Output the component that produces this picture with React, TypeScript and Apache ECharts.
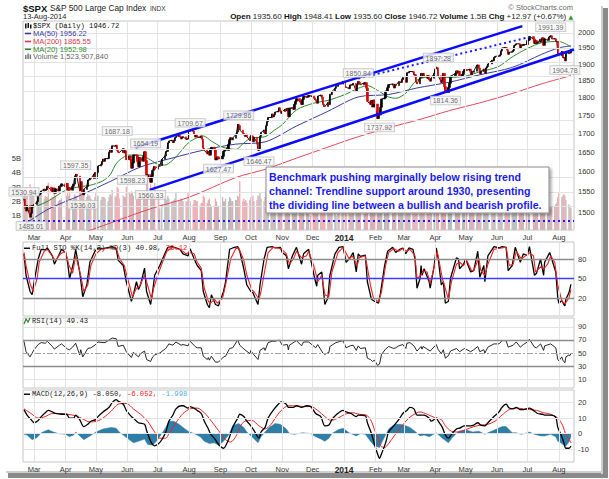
import React, { useEffect, useRef } from 'react';
import * as echarts from 'echarts';

const SANS = '"Liberation Sans", Arial, sans-serif';
const MONO = '"Liberation Mono", "DejaVu Sans Mono", monospace';

const HOLIDAYS = ['13-03-29', '13-05-27', '13-07-04', '13-09-02', '13-11-28', '13-12-25', '14-01-01', '14-01-20', '14-02-17', '14-04-18', '14-05-26', '14-07-04'];

// [year, month, first day] for each block of daily values below
const MONTH_STARTS: [number, number, number][] = [
  [2013, 2, 19], [2013, 3, 1], [2013, 4, 1], [2013, 5, 1], [2013, 6, 1], [2013, 7, 1], [2013, 8, 1], [2013, 9, 1], [2013, 10, 1], [2013, 11, 1], [2013, 12, 1],
  [2014, 1, 1], [2014, 2, 1], [2014, 3, 1], [2014, 4, 1], [2014, 5, 1], [2014, 6, 1], [2014, 7, 1], [2014, 8, 1],
];

// daily closes
const close1302 = [1530.94, 1511.95, 1502.42, 1515.6, 1487.85, 1496.94, 1515.99, 1514.68];
const close1303 = [1518.2, 1525.2, 1539.79, 1541.46, 1544.26, 1551.18, 1556.22, 1552.48, 1554.52, 1563.23, 1560.7, 1552.1, 1548.34, 1558.71, 1545.8, 1556.89, 1551.69, 1563.77, 1562.85, 1569.19];
const close1304 = [1562.17, 1570.25, 1553.69, 1559.98, 1553.28, 1563.07, 1568.61, 1587.73, 1593.37, 1588.85, 1552.36, 1574.57, 1552.01, 1541.61, 1555.25, 1562.5, 1578.78, 1578.79, 1585.16, 1582.24, 1593.61, 1597.57];
const close1305 = [1582.7, 1597.59, 1614.42, 1617.5, 1625.96, 1632.69, 1626.67, 1633.7, 1633.77, 1650.34, 1658.78, 1650.47, 1667.47, 1666.29, 1669.16, 1655.35, 1650.51, 1649.6, 1660.06, 1648.36, 1654.41, 1630.74];
const close1306 = [1640.42, 1631.38, 1608.9, 1622.56, 1643.38, 1642.81, 1626.13, 1612.52, 1636.36, 1626.73, 1639.04, 1651.81, 1628.93, 1588.19, 1592.43, 1573.09, 1588.03, 1603.26, 1613.2, 1606.28];
const close1307 = [1614.96, 1614.08, 1615.41, 1631.89, 1640.46, 1652.32, 1652.62, 1675.02, 1680.19, 1682.5, 1676.26, 1680.91, 1689.37, 1692.09, 1695.53, 1692.39, 1685.94, 1690.25, 1691.65, 1685.33, 1685.96, 1685.73];
const close1308 = [1706.87, 1709.67, 1707.14, 1697.37, 1690.91, 1697.48, 1691.42, 1689.47, 1694.16, 1685.39, 1661.32, 1655.83, 1646.06, 1652.35, 1642.8, 1656.96, 1663.5, 1656.78, 1630.48, 1634.96, 1638.17, 1632.97];
const close1309 = [1639.77, 1653.08, 1655.08, 1655.17, 1671.71, 1683.99, 1689.13, 1683.42, 1687.99, 1697.6, 1704.76, 1725.52, 1722.34, 1709.91, 1701.84, 1697.42, 1692.77, 1698.67, 1691.75, 1681.55];
const close1310 = [1695.0, 1693.87, 1678.66, 1690.5, 1676.12, 1655.45, 1656.4, 1692.56, 1703.2, 1710.14, 1698.06, 1721.54, 1733.15, 1744.5, 1744.66, 1754.67, 1746.38, 1752.07, 1759.77, 1762.11, 1771.95, 1763.31, 1756.54];
const close1311 = [1761.64, 1767.93, 1762.97, 1770.49, 1747.15, 1770.61, 1771.89, 1767.69, 1782.0, 1790.62, 1798.18, 1791.53, 1787.87, 1781.37, 1795.85, 1804.76, 1802.48, 1802.75, 1807.23, 1805.81];
const close1312 = [1800.9, 1795.15, 1792.81, 1785.03, 1805.09, 1808.37, 1802.62, 1782.22, 1775.5, 1775.32, 1786.54, 1781.0, 1810.65, 1809.6, 1818.32, 1827.99, 1833.32, 1842.02, 1841.4, 1841.07, 1848.36];
const close1401 = [1831.98, 1831.37, 1826.77, 1837.88, 1837.49, 1838.13, 1842.37, 1819.2, 1838.88, 1848.38, 1845.89, 1838.7, 1843.8, 1844.86, 1828.46, 1790.29, 1781.56, 1792.5, 1774.2, 1794.19, 1782.59];
const close1402 = [1741.89, 1755.2, 1751.64, 1773.43, 1797.02, 1799.84, 1819.75, 1819.26, 1829.83, 1838.63, 1840.76, 1828.75, 1839.78, 1836.25, 1847.61, 1845.12, 1845.16, 1854.29, 1859.45];
const close1403 = [1845.73, 1873.91, 1873.81, 1877.03, 1878.04, 1877.17, 1867.63, 1868.2, 1846.34, 1841.13, 1858.83, 1872.25, 1860.77, 1872.01, 1866.52, 1857.44, 1865.62, 1852.56, 1849.04, 1857.62, 1872.34];
const close1404 = [1885.52, 1890.9, 1888.77, 1865.09, 1845.04, 1851.96, 1872.18, 1833.08, 1815.69, 1830.61, 1842.98, 1862.31, 1864.85, 1871.89, 1879.55, 1875.39, 1878.61, 1863.4, 1869.43, 1878.33, 1883.95];
const close1405 = [1883.68, 1881.14, 1884.66, 1867.72, 1878.21, 1875.63, 1878.48, 1896.65, 1897.45, 1888.53, 1870.85, 1877.86, 1885.08, 1872.83, 1888.03, 1892.49, 1900.53, 1911.91, 1909.78, 1920.03, 1923.57];
const close1406 = [1924.97, 1924.24, 1927.88, 1940.46, 1949.44, 1951.27, 1950.79, 1943.89, 1930.11, 1936.16, 1937.78, 1941.99, 1956.98, 1959.48, 1962.87, 1962.61, 1949.98, 1959.53, 1957.22, 1960.96, 1960.23];
const close1407 = [1973.32, 1974.62, 1985.44, 1977.65, 1963.71, 1972.83, 1964.68, 1967.57, 1977.1, 1973.28, 1981.57, 1958.12, 1978.22, 1973.63, 1983.53, 1987.01, 1987.98, 1978.34, 1978.91, 1969.95, 1970.07, 1930.67];
const close1408 = [1925.15, 1938.99, 1920.21, 1920.24, 1909.57, 1931.59, 1936.92, 1933.75, 1946.72];
const CLOSES = [close1302, close1303, close1304, close1305, close1306, close1307, close1308, close1309, close1310, close1311, close1312, close1401, close1402, close1403, close1404, close1405, close1406, close1407, close1408];

// daily volume, billions
const vol1302 = [2.6, 2.9, 3.0, 2.4, 3.2, 2.9, 2.6, 2.8];
const vol1303 = [2.5, 2.4, 2.7, 2.6, 2.4, 2.5, 2.2, 2.4, 2.3, 2.3, 3.3, 2.2, 2.3, 2.3, 2.8, 2.4, 2.0, 2.1, 2.1, 2.2];
const vol1304 = [2.1, 2.4, 2.6, 2.4, 2.6, 2.1, 2.2, 2.5, 2.4, 2.3, 3.1, 2.6, 2.9, 3.0, 2.7, 2.3, 2.5, 2.4, 2.4, 2.2, 2.0, 2.3];
const vol1305 = [2.6, 2.4, 2.4, 2.1, 2.3, 2.3, 2.3, 2.2, 2.0, 2.3, 2.5, 2.4, 2.8, 2.3, 2.4, 3.0, 2.9, 2.2, 2.4, 2.3, 2.3, 3.0];
const vol1306 = [2.6, 2.5, 2.7, 2.6, 2.4, 2.1, 2.3, 2.5, 2.4, 2.5, 2.3, 2.4, 2.7, 3.4, 3.6, 3.2, 2.7, 2.4, 2.4, 3.3];
const vol1307 = [2.4, 2.3, 1.5, 1.8, 2.3, 2.2, 2.1, 2.4, 2.2, 2.0, 2.0, 2.1, 2.2, 2.6, 2.0, 2.1, 2.2, 2.1, 2.0, 2.0, 2.0, 2.6];
const vol1308 = [2.3, 2.0, 1.8, 2.1, 2.1, 2.0, 2.0, 1.7, 1.9, 1.9, 2.4, 2.3, 1.9, 2.1, 2.2, 1.8, 1.6, 1.7, 2.2, 2.0, 1.6, 1.7];
const vol1309 = [2.3, 2.0, 2.0, 2.2, 2.0, 2.3, 2.2, 2.0, 2.0, 2.1, 2.1, 2.4, 2.3, 3.4, 2.0, 2.2, 2.0, 2.1, 1.9, 2.1];
const vol1310 = [2.3, 2.2, 2.4, 2.0, 2.1, 2.4, 2.4, 2.6, 2.2, 2.0, 2.3, 2.7, 2.4, 2.7, 2.3, 2.5, 2.4, 2.3, 2.2, 2.3, 2.4, 2.3, 2.6];
const vol1311 = [2.2, 2.1, 2.2, 2.3, 2.6, 2.3, 1.8, 2.0, 2.1, 2.2, 2.2, 2.2, 2.1, 2.3, 2.1, 2.2, 2.0, 2.0, 1.6, 1.0];
const vol1312 = [2.1, 2.2, 2.3, 2.2, 2.0, 2.1, 2.2, 2.4, 2.3, 2.3, 2.2, 2.3, 2.8, 2.4, 3.3, 1.8, 1.0, 1.4, 1.3, 1.5, 1.6];
const vol1401 = [1.8, 1.8, 2.1, 2.2, 2.2, 2.1, 2.1, 2.4, 2.2, 2.3, 2.2, 2.4, 2.3, 2.3, 2.5, 3.2, 2.8, 2.5, 2.7, 2.4, 2.6];
const vol1402 = [3.3, 2.8, 2.8, 2.5, 2.3, 2.0, 2.2, 2.1, 2.0, 2.0, 2.3, 2.3, 2.0, 1.9, 2.0, 2.2, 2.1, 2.0, 2.4];
const vol1403 = [2.3, 2.3, 2.1, 2.0, 2.1, 1.9, 2.0, 2.0, 2.2, 2.3, 2.1, 2.1, 2.2, 2.1, 3.1, 2.3, 2.4, 2.3, 2.2, 2.2, 2.3];
const vol1404 = [2.2, 2.1, 2.2, 2.6, 2.5, 2.4, 2.3, 2.5, 2.6, 2.2, 2.3, 2.1, 2.2, 1.7, 1.8, 1.8, 1.9, 1.8, 2.0, 1.9, 2.0];
const vol1405 = [2.1, 1.9, 1.8, 2.0, 2.1, 2.0, 1.9, 1.9, 1.9, 1.8, 2.1, 2.0, 1.8, 1.8, 1.8, 1.6, 1.5, 1.7, 1.8, 1.7, 2.0];
const vol1406 = [1.8, 1.7, 1.7, 1.8, 1.7, 1.6, 1.6, 1.6, 1.8, 1.6, 1.6, 1.6, 1.8, 1.8, 2.9, 1.7, 1.7, 1.6, 1.6, 1.8, 1.9];
const vol1407 = [1.8, 1.6, 1.1, 1.5, 1.7, 1.6, 1.7, 1.5, 1.6, 1.7, 1.7, 1.9, 1.7, 1.6, 1.6, 1.6, 1.5, 1.6, 1.7, 1.8, 1.9, 2.3];
const vol1408 = [2.6, 2.3, 2.4, 2.5, 2.4, 2.1, 1.8, 1.7, 1.52];
const VOLUMES = [vol1302, vol1303, vol1304, vol1305, vol1306, vol1307, vol1308, vol1309, vol1310, vol1311, vol1312, vol1401, vol1402, vol1403, vol1404, vol1405, vol1406, vol1407, vol1408];

type KF = [string, number][];
const ma20: KF = [['13-02-19', 1508], ['13-03-01', 1512], ['13-03-15', 1527], ['13-04-01', 1553], ['13-04-15', 1562], ['13-04-26', 1566], ['13-05-08', 1577], ['13-05-15', 1592], ['13-05-22', 1624], ['13-06-03', 1643], ['13-06-14', 1643], ['13-06-24', 1630], ['13-07-01', 1619], ['13-07-08', 1617], ['13-07-15', 1628], ['13-07-22', 1647], ['13-08-01', 1677], ['13-08-15', 1694], ['13-08-23', 1680], ['13-09-03', 1664], ['13-09-16', 1658], ['13-09-24', 1675], ['13-10-01', 1688], ['13-10-15', 1692], ['13-10-24', 1709], ['13-11-01', 1725], ['13-11-15', 1766], ['13-12-02', 1785], ['13-12-16', 1793], ['14-01-02', 1810], ['14-01-15', 1828], ['14-01-24', 1836], ['14-02-03', 1822], ['14-02-14', 1803], ['14-02-21', 1799], ['14-03-03', 1814], ['14-03-14', 1852], ['14-04-01', 1864], ['14-04-15', 1860], ['14-05-01', 1864], ['14-05-15', 1877], ['14-06-02', 1892], ['14-06-16', 1922], ['14-07-01', 1948], ['14-07-15', 1966], ['14-08-01', 1970], ['14-08-13', 1952.98]];
const ma50: KF = [['13-02-19', 1470], ['13-03-15', 1507], ['13-04-15', 1540], ['13-05-15', 1575], ['13-06-14', 1612], ['13-07-15', 1635], ['13-08-15', 1656], ['13-09-16', 1672], ['13-10-15', 1678], ['13-11-15', 1721], ['13-12-16', 1762], ['14-01-15', 1803], ['14-02-14', 1810], ['14-03-14', 1829], ['14-04-15', 1846], ['14-05-15', 1868], ['14-06-16', 1890], ['14-07-15', 1930], ['14-08-01', 1950], ['14-08-13', 1956.22]];
const ma200: KF = [['13-02-19', 1410], ['13-03-15', 1425], ['13-04-24', 1456], ['13-06-24', 1508], ['13-08-01', 1536], ['13-09-16', 1585], ['13-10-15', 1606], ['13-11-15', 1635], ['13-12-16', 1664], ['14-01-15', 1692], ['14-02-24', 1724], ['14-03-14', 1737], ['14-04-15', 1764], ['14-05-15', 1786], ['14-06-16', 1813], ['14-07-15', 1841], ['14-08-13', 1865.55]];

const stoK: KF = [['13-02-19', 88], ['13-02-21', 55], ['13-02-25', 30], ['13-02-27', 25], ['13-03-01', 45], ['13-03-05', 80], ['13-03-08', 95], ['13-03-12', 94], ['13-03-14', 97], ['13-03-19', 85], ['13-03-21', 72], ['13-03-26', 88], ['13-03-28', 95], ['13-04-01', 90], ['13-04-03', 75], ['13-04-05', 50], ['13-04-09', 75], ['13-04-11', 95], ['13-04-15', 60], ['13-04-18', 22], ['13-04-22', 40], ['13-04-25', 75], ['13-04-30', 92], ['13-05-03', 97], ['13-05-08', 96], ['13-05-14', 98], ['13-05-17', 99], ['13-05-21', 96], ['13-05-23', 78], ['13-05-28', 70], ['13-05-31', 45], ['13-06-05', 15], ['13-06-07', 25], ['13-06-10', 45], ['13-06-12', 33], ['13-06-14', 40], ['13-06-18', 66], ['13-06-20', 30], ['13-06-24', 10], ['13-06-26', 30], ['13-06-28', 55], ['13-07-03', 70], ['13-07-08', 88], ['13-07-11', 98], ['13-07-15', 99], ['13-07-19', 97], ['13-07-23', 95], ['13-07-26', 88], ['13-07-31', 85], ['13-08-02', 96], ['13-08-06', 80], ['13-08-09', 70], ['13-08-13', 62], ['13-08-15', 30], ['13-08-19', 10], ['13-08-21', 5], ['13-08-23', 25], ['13-08-27', 10], ['13-08-30', 8], ['13-09-04', 30], ['13-09-06', 45], ['13-09-10', 95], ['13-09-13', 97], ['13-09-18', 99], ['13-09-20', 92], ['13-09-24', 65], ['13-09-27', 40], ['13-10-01', 30], ['13-10-03', 28], ['13-10-08', 10], ['13-10-10', 40], ['13-10-14', 80], ['13-10-17', 98], ['13-10-22', 99], ['13-10-25', 97], ['13-10-30', 98], ['13-11-01', 90], ['13-11-05', 85], ['13-11-07', 65], ['13-11-11', 85], ['13-11-15', 98], ['13-11-20', 72], ['13-11-22', 88], ['13-11-27', 95], ['13-12-03', 50], ['13-12-05', 38], ['13-12-06', 55], ['13-12-10', 60], ['13-12-13', 10], ['13-12-16', 20], ['13-12-18', 55], ['13-12-23', 88], ['13-12-27', 98], ['13-12-31', 99], ['14-01-03', 75], ['14-01-07', 82], ['14-01-10', 90], ['14-01-13', 60], ['14-01-15', 88], ['14-01-17', 84], ['14-01-22', 86], ['14-01-24', 45], ['14-01-28', 18], ['14-01-31', 15], ['14-02-04', 12], ['14-02-06', 28], ['14-02-10', 70], ['14-02-13', 92], ['14-02-18', 98], ['14-02-21', 90], ['14-02-25', 95], ['14-02-28', 97], ['14-03-03', 88], ['14-03-06', 97], ['14-03-10', 95], ['14-03-12', 80], ['14-03-14', 35], ['14-03-17', 50], ['14-03-18', 70], ['14-03-19', 55], ['14-03-21', 65], ['14-03-26', 45], ['14-03-27', 35], ['14-03-31', 70], ['14-04-02', 97], ['14-04-04', 80], ['14-04-07', 40], ['14-04-09', 45], ['14-04-11', 12], ['14-04-14', 15], ['14-04-16', 50], ['14-04-22', 82], ['14-04-24', 80], ['14-04-25', 65], ['14-04-29', 72], ['14-05-01', 80], ['14-05-06', 60], ['14-05-09', 62], ['14-05-13', 92], ['14-05-15', 52], ['14-05-19', 70], ['14-05-20', 45], ['14-05-23', 85], ['14-05-29', 99], ['14-06-03', 97], ['14-06-06', 99], ['14-06-10', 98], ['14-06-12', 62], ['14-06-16', 70], ['14-06-19', 98], ['14-06-24', 75], ['14-06-27', 88], ['14-07-01', 85], ['14-07-03', 99], ['14-07-08', 55], ['14-07-10', 58], ['14-07-14', 80], ['14-07-17', 55], ['14-07-18', 75], ['14-07-23', 90], ['14-07-25', 80], ['14-07-29', 60], ['14-07-31', 20], ['14-08-01', 12], ['14-08-04', 16], ['14-08-06', 10], ['14-08-07', 8], ['14-08-08', 18], ['14-08-11', 28], ['14-08-13', 40.98]];
const stoD: KF = [['13-02-19', 90], ['13-02-21', 70], ['13-02-25', 42], ['13-02-28', 30], ['13-03-04', 50], ['13-03-06', 75], ['13-03-11', 92], ['13-03-14', 95], ['13-03-20', 82], ['13-03-22', 78], ['13-03-27', 88], ['13-04-01', 92], ['13-04-04', 72], ['13-04-08', 58], ['13-04-11', 85], ['13-04-16', 55], ['13-04-19', 30], ['13-04-23', 40], ['13-04-26', 70], ['13-05-01', 88], ['13-05-06', 95], ['13-05-15', 97], ['13-05-21', 97], ['13-05-24', 82], ['13-05-29', 70], ['13-06-03', 40], ['13-06-06', 22], ['13-06-10', 35], ['13-06-13', 38], ['13-06-18', 55], ['13-06-20', 45], ['13-06-25', 18], ['13-06-27', 35], ['13-07-01', 55], ['13-07-05', 72], ['13-07-10', 92], ['13-07-16', 98], ['13-07-24', 94], ['13-07-29', 88], ['13-08-01', 90], ['13-08-06', 88], ['13-08-09', 75], ['13-08-13', 66], ['13-08-16', 35], ['13-08-20', 15], ['13-08-22', 12], ['13-08-26', 18], ['13-08-29', 12], ['13-09-03', 20], ['13-09-06', 40], ['13-09-11', 80], ['13-09-16', 96], ['13-09-19', 97], ['13-09-24', 78], ['13-09-27', 55], ['13-10-02', 32], ['13-10-04', 30], ['13-10-09', 18], ['13-10-11', 30], ['13-10-15', 65], ['13-10-18', 90], ['13-10-23', 98], ['13-10-31', 96], ['13-11-05', 88], ['13-11-08', 72], ['13-11-12', 80], ['13-11-15', 92], ['13-11-20', 82], ['13-11-25', 85], ['13-11-27', 92], ['13-12-03', 65], ['13-12-06', 45], ['13-12-10', 55], ['13-12-13', 25], ['13-12-17', 22], ['13-12-20', 60], ['13-12-26', 90], ['13-12-31', 98], ['14-01-06', 80], ['14-01-09', 85], ['14-01-14', 70], ['14-01-16', 82], ['14-01-22', 85], ['14-01-27', 40], ['14-01-30', 20], ['14-02-04', 14], ['14-02-07', 30], ['14-02-11', 70], ['14-02-14', 90], ['14-02-19', 96], ['14-02-24', 92], ['14-02-28', 96], ['14-03-04', 92], ['14-03-07', 95], ['14-03-12', 85], ['14-03-14', 50], ['14-03-18', 55], ['14-03-20', 62], ['14-03-24', 60], ['14-03-27', 42], ['14-04-01', 75], ['14-04-03', 92], ['14-04-08', 50], ['14-04-10', 40], ['14-04-14', 18], ['14-04-17', 45], ['14-04-22', 72], ['14-04-25', 75], ['14-04-29', 70], ['14-05-02', 78], ['14-05-07', 62], ['14-05-09', 62], ['14-05-14', 82], ['14-05-16', 62], ['14-05-20', 55], ['14-05-23', 72], ['14-05-29', 95], ['14-06-10', 98], ['14-06-13', 70], ['14-06-17', 72], ['14-06-20', 92], ['14-06-25', 80], ['14-06-30', 86], ['14-07-02', 90], ['14-07-07', 85], ['14-07-09', 60], ['14-07-14', 68], ['14-07-17', 65], ['14-07-21', 72], ['14-07-24', 85], ['14-07-28', 75], ['14-07-31', 40], ['14-08-04', 15], ['14-08-07', 11], ['14-08-11', 20], ['14-08-13', 33.12]];

const rsi: KF = [['13-02-19', 68], ['13-02-21', 52], ['13-02-25', 44], ['13-02-27', 50], ['13-03-01', 55], ['13-03-05', 63], ['13-03-08', 66], ['13-03-12', 65], ['13-03-14', 68], ['13-03-19', 60], ['13-03-21', 56], ['13-03-26', 62], ['13-03-28', 64], ['13-04-03', 56], ['13-04-05', 55], ['13-04-08', 59], ['13-04-11', 65], ['13-04-15', 47], ['13-04-16', 55], ['13-04-18', 44], ['13-04-23', 57], ['13-04-26', 58], ['13-04-30', 62], ['13-05-03', 67], ['13-05-08', 66], ['13-05-10', 66], ['13-05-15', 71], ['13-05-17', 73], ['13-05-21', 72], ['13-05-23', 60], ['13-05-28', 62], ['13-05-31', 52], ['13-06-05', 43], ['13-06-07', 51], ['13-06-12', 44], ['13-06-14', 49], ['13-06-18', 53], ['13-06-20', 40], ['13-06-24', 37], ['13-06-26', 44], ['13-06-28', 47], ['13-07-03', 50], ['13-07-09', 57], ['13-07-12', 64], ['13-07-16', 62], ['13-07-19', 67], ['13-07-24', 62], ['13-07-26', 63], ['13-07-31', 61], ['13-08-02', 68], ['13-08-07', 60], ['13-08-09', 58], ['13-08-13', 58], ['13-08-15', 45], ['13-08-19', 40], ['13-08-20', 43], ['13-08-21', 39], ['13-08-23', 45], ['13-08-27', 36], ['13-08-30', 36], ['13-09-04', 44], ['13-09-06', 45], ['13-09-10', 57], ['13-09-13', 58], ['13-09-18', 70], ['13-09-20', 62], ['13-09-25', 55], ['13-09-30', 49], ['13-10-01', 54], ['13-10-03', 49], ['13-10-08', 40], ['13-10-10', 54], ['13-10-14', 58], ['13-10-15', 54], ['13-10-18', 66], ['13-10-22', 68], ['13-10-25', 68], ['13-10-29', 70], ['13-11-01', 62], ['13-11-06', 63], ['13-11-07', 55], ['13-11-08', 62], ['13-11-15', 69], ['13-11-20', 61], ['13-11-22', 67], ['13-11-27', 67], ['13-12-04', 58], ['13-12-06', 63], ['13-12-11', 50], ['13-12-13', 48], ['13-12-17', 51], ['13-12-18', 60], ['13-12-24', 66], ['13-12-31', 69], ['14-01-03', 58], ['14-01-07', 61], ['14-01-10', 62], ['14-01-13', 54], ['14-01-15', 61], ['14-01-17', 57], ['14-01-22', 58], ['14-01-24', 42], ['14-01-27', 40], ['14-01-29', 37], ['14-01-31', 39], ['14-02-03', 31], ['14-02-05', 33], ['14-02-07', 48], ['14-02-11', 56], ['14-02-14', 60], ['14-02-19', 57], ['14-02-21', 58], ['14-02-24', 61], ['14-02-28', 63], ['14-03-03', 57], ['14-03-04', 65], ['14-03-07', 66], ['14-03-11', 61], ['14-03-14', 53], ['14-03-18', 60], ['14-03-19', 56], ['14-03-20', 60], ['14-03-24', 56], ['14-03-27', 53], ['14-04-02', 63], ['14-04-04', 55], ['14-04-07', 49], ['14-04-09', 55], ['14-04-11', 42], ['14-04-14', 46], ['14-04-16', 53], ['14-04-22', 57], ['14-04-25', 52], ['14-04-30', 57], ['14-05-06', 52], ['14-05-09', 55], ['14-05-13', 60], ['14-05-15', 52], ['14-05-19', 55], ['14-05-20', 50], ['14-05-23', 59], ['14-05-29', 64], ['14-06-03', 64], ['14-06-06', 69], ['14-06-10', 69], ['14-06-12', 59], ['14-06-17', 62], ['14-06-20', 67], ['14-06-24', 59], ['14-06-27', 63], ['14-07-01', 67], ['14-07-03', 71], ['14-07-08', 59], ['14-07-10', 58], ['14-07-14', 64], ['14-07-17', 54], ['14-07-18', 61], ['14-07-24', 64], ['14-07-29', 58], ['14-07-31', 40], ['14-08-01', 38], ['14-08-04', 44], ['14-08-05', 39], ['14-08-07', 35], ['14-08-08', 44], ['14-08-11', 47], ['14-08-12', 46], ['14-08-13', 49.43]];

const macd: KF = [['13-02-19', 15.5], ['13-02-22', 12], ['13-02-26', 9], ['13-03-01', 7], ['13-03-05', 8.5], ['13-03-08', 11], ['13-03-12', 13.5], ['13-03-15', 15], ['13-03-19', 14], ['13-03-22', 13], ['13-03-28', 12.5], ['13-04-02', 12.5], ['13-04-05', 10], ['13-04-09', 10], ['13-04-11', 12], ['13-04-15', 9], ['13-04-19', 4.5], ['13-04-23', 6], ['13-04-26', 8], ['13-05-01', 9], ['13-05-03', 11], ['13-05-08', 14], ['13-05-14', 17], ['13-05-17', 20], ['13-05-21', 22], ['13-05-23', 21], ['13-05-28', 19], ['13-05-31', 15], ['13-06-05', 11], ['13-06-07', 10], ['13-06-12', 7], ['13-06-18', 6], ['13-06-20', 2], ['13-06-24', -5], ['13-06-26', -7], ['13-06-28', -8], ['13-07-02', -6.5], ['13-07-05', -4], ['13-07-09', 1], ['13-07-12', 8], ['13-07-16', 12], ['13-07-19', 16], ['13-07-24', 18], ['13-07-26', 18], ['13-07-31', 16.5], ['13-08-02', 17.5], ['13-08-07', 16], ['13-08-09', 15], ['13-08-13', 13], ['13-08-16', 8], ['13-08-20', 3], ['13-08-22', 0], ['13-08-27', -4], ['13-08-30', -7], ['13-09-04', -9.5], ['13-09-06', -8], ['13-09-10', -2], ['13-09-13', 4], ['13-09-18', 10], ['13-09-20', 12.5], ['13-09-24', 11], ['13-09-27', 8], ['13-10-01', 5], ['13-10-04', 2], ['13-10-09', -3], ['13-10-11', 1], ['13-10-15', 4], ['13-10-18', 10], ['13-10-23', 15], ['13-10-28', 19], ['13-10-31', 20.5], ['13-11-05', 19], ['13-11-07', 17], ['13-11-12', 17], ['13-11-15', 18], ['13-11-20', 17], ['13-11-25', 18], ['13-11-29', 17.5], ['13-12-04', 13], ['13-12-09', 11], ['13-12-13', 5], ['13-12-17', 5.5], ['13-12-20', 9], ['13-12-24', 12], ['13-12-31', 15], ['14-01-03', 14], ['14-01-08', 13], ['14-01-13', 11], ['14-01-15', 12], ['14-01-22', 11.5], ['14-01-24', 7], ['14-01-28', 0], ['14-01-31', -7], ['14-02-03', -13], ['14-02-05', -16], ['14-02-07', -13], ['14-02-11', -6], ['14-02-14', 1], ['14-02-19', 5], ['14-02-24', 9], ['14-02-28', 13], ['14-03-04', 15], ['14-03-07', 17], ['14-03-11', 16], ['14-03-14', 12], ['14-03-18', 12], ['14-03-21', 12], ['14-03-26', 10], ['14-03-28', 8], ['14-04-02', 10], ['14-04-04', 8], ['14-04-08', 4], ['14-04-11', -1], ['14-04-14', -3], ['14-04-17', -0.5], ['14-04-22', 3], ['14-04-25', 3.5], ['14-04-30', 5], ['14-05-06', 5], ['14-05-09', 5.5], ['14-05-13', 7], ['14-05-16', 5.5], ['14-05-20', 5], ['14-05-23', 7], ['14-05-29', 11], ['14-06-03', 14], ['14-06-06', 17], ['14-06-10', 19], ['14-06-13', 16.5], ['14-06-17', 16], ['14-06-20', 17], ['14-06-24', 15.5], ['14-06-27', 15.5], ['14-07-03', 16.5], ['14-07-08', 14.5], ['14-07-11', 13], ['14-07-16', 12.5], ['14-07-18', 12], ['14-07-24', 12], ['14-07-29', 10.5], ['14-07-31', 4], ['14-08-04', -2], ['14-08-06', -6], ['14-08-08', -9.5], ['14-08-11', -9.5], ['14-08-13', -8.05]];
const signal: KF = [['13-02-19', 16], ['13-02-26', 13], ['13-03-05', 10], ['13-03-12', 11], ['13-03-19', 13], ['13-03-26', 13], ['13-04-03', 12.5], ['13-04-11', 11.5], ['13-04-18', 9.5], ['13-04-25', 7.5], ['13-05-02', 8], ['13-05-09', 10.5], ['13-05-16', 14.5], ['13-05-23', 19], ['13-05-31', 19.5], ['13-06-07', 16], ['13-06-14', 12.5], ['13-06-21', 8], ['13-06-28', 1], ['13-07-03', -3], ['13-07-09', -3], ['13-07-12', 0], ['13-07-19', 7], ['13-07-26', 13], ['13-08-02', 16], ['13-08-09', 16.5], ['13-08-16', 13.5], ['13-08-23', 8], ['13-08-30', 2], ['13-09-06', -4], ['13-09-11', -5.5], ['13-09-16', -2], ['13-09-20', 4], ['13-09-25', 8], ['13-10-02', 8.5], ['13-10-09', 5], ['13-10-15', 3], ['13-10-21', 6], ['13-10-25', 10], ['13-10-31', 15], ['13-11-07', 18], ['13-11-15', 18], ['13-11-22', 17.5], ['13-11-29', 17.5], ['13-12-06', 15], ['13-12-13', 11], ['13-12-19', 8.5], ['13-12-26', 10], ['14-01-02', 12.5], ['14-01-09', 13.5], ['14-01-16', 12.5], ['14-01-23', 12], ['14-01-28', 8], ['14-01-31', 2.5], ['14-02-04', -3.5], ['14-02-06', -8], ['14-02-10', -9], ['14-02-14', -6.5], ['14-02-20', -1], ['14-02-26', 4], ['14-03-05', 9.5], ['14-03-10', 12], ['14-03-17', 14], ['14-03-24', 12.5], ['14-03-31', 10.5], ['14-04-07', 9], ['14-04-11', 5], ['14-04-17', 1.5], ['14-04-24', 1], ['14-05-01', 2.5], ['14-05-09', 4.5], ['14-05-16', 5.5], ['14-05-23', 6], ['14-05-30', 8], ['14-06-06', 12], ['14-06-13', 15.5], ['14-06-20', 16.5], ['14-06-27', 16], ['14-07-03', 15.5], ['14-07-10', 15], ['14-07-17', 13.5], ['14-07-24', 12.5], ['14-07-31', 10], ['14-08-05', 5], ['14-08-08', -1], ['14-08-11', -3.5], ['14-08-13', -6.05]];
const hist: KF = [['13-02-19', -0.5], ['13-02-22', -1], ['13-02-27', -4], ['13-03-04', -2.5], ['13-03-08', 0.5], ['13-03-13', 2], ['13-03-15', 2.5], ['13-03-20', 1], ['13-03-25', 0], ['13-04-01', -0.5], ['13-04-05', -2], ['13-04-09', -1], ['13-04-11', 1], ['13-04-15', -1.5], ['13-04-19', -4], ['13-04-24', -2], ['13-05-01', 1], ['13-05-08', 3], ['13-05-16', 4], ['13-05-21', 3.5], ['13-05-24', 1], ['13-05-28', -1], ['13-06-03', -4], ['13-06-07', -6], ['13-06-12', -5], ['13-06-18', -3.5], ['13-06-21', -7], ['13-06-26', -7.5], ['13-07-01', -4], ['13-07-05', 0], ['13-07-09', 4], ['13-07-12', 8], ['13-07-17', 8], ['13-07-22', 6], ['13-07-26', 4], ['13-08-01', 1], ['13-08-06', 0], ['13-08-12', -2], ['13-08-16', -5], ['13-08-21', -6.5], ['13-08-26', -6], ['13-08-30', -7.5], ['13-09-04', -5], ['13-09-09', -1], ['13-09-13', 5], ['13-09-19', 6.5], ['13-09-24', 4], ['13-09-27', 1], ['13-10-02', -2], ['13-10-08', -6], ['13-10-11', -2], ['13-10-15', 1], ['13-10-19', 4], ['13-10-25', 6.5], ['13-10-30', 6], ['13-11-05', 3], ['13-11-08', 0], ['13-11-13', -0.5], ['13-11-21', 0.5], ['13-11-29', 0], ['13-12-04', -2], ['13-12-09', -3.5], ['13-12-13', -5], ['13-12-17', -3], ['13-12-20', 0], ['13-12-26', 2.5], ['13-12-31', 3.5], ['14-01-06', 0.5], ['14-01-13', -1.5], ['14-01-17', 0], ['14-01-22', -0.5], ['14-01-27', -5], ['14-01-31', -8], ['14-02-05', -9], ['14-02-07', -6], ['14-02-11', -1], ['14-02-14', 3], ['14-02-20', 6], ['14-02-26', 6], ['14-03-03', 5], ['14-03-07', 4], ['14-03-12', 1.5], ['14-03-17', -1.5], ['14-03-21', -1], ['14-03-26', -2], ['14-04-02', 0.5], ['14-04-08', -3], ['14-04-14', -6], ['14-04-18', -2.5], ['14-04-24', 1.5], ['14-05-01', 2.5], ['14-05-08', 1], ['14-05-14', 1.5], ['14-05-20', -0.5], ['14-05-23', 0.5], ['14-05-30', 2.5], ['14-06-06', 4.5], ['14-06-10', 4.5], ['14-06-16', 0.5], ['14-06-20', 0.5], ['14-06-25', -0.5], ['14-07-01', 0.5], ['14-07-03', 1], ['14-07-08', -0.5], ['14-07-14', -1.5], ['14-07-18', -1.5], ['14-07-24', -0.5], ['14-07-29', -2], ['14-07-31', -5], ['14-08-04', -6.5], ['14-08-06', -7.5], ['14-08-08', -8], ['14-08-11', -5.5], ['14-08-13', -2]];

// annotated highs (u) and lows (d)
const PRICE_NOTES: [string, number, 'u' | 'd'][] = [
  ['13-02-19', 1530.94, 'u'], ['13-02-26', 1485.01, 'd'], ['13-04-11', 1597.35, 'u'], ['13-04-18', 1536.03, 'd'],
  ['13-05-22', 1687.18, 'u'], ['13-06-06', 1598.23, 'd'], ['13-06-19', 1654.19, 'u'], ['13-06-24', 1560.33, 'd'],
  ['13-08-02', 1709.67, 'u'], ['13-08-30', 1627.47, 'd'], ['13-09-19', 1729.86, 'u'], ['13-10-09', 1646.47, 'd'],
  ['14-01-15', 1850.84, 'u'], ['14-02-05', 1737.92, 'd'], ['14-04-04', 1897.28, 'u'], ['14-04-11', 1814.36, 'd'],
  ['14-07-24', 1991.39, 'u'], ['14-08-07', 1904.78, 'd'],
];
// trend lines: [start date, start price, end date, end price]
const CHANNEL_UPPER: [string, number, string, number] = ['13-06-09', 1663, '14-06-26', 2019];
const CHANNEL_LOWER: [string, number, string, number] = ['13-06-23', 1554, '14-08-16', 1945];
const RESISTANCE_DOTTED: [string, number, string, number] = ['14-01-15', 1857, '14-07-03', 1984];
const SUPPORT_LEVEL = 1471;

const PRICE_TICKS = [1500, 1550, 1600, 1650, 1700, 1750, 1800, 1850, 1900, 1950, 2000];
const VOLUME_TICKS = [1, 2, 3, 4, 5];
const STO_TICKS = [20, 50, 80];
const RSI_TICKS = [10, 30, 50, 70, 90];
const MACD_TICKS = [-10, 0, 10, 20];
const MONTH_NAMES = ['Jan', 'Feb', 'Mar', 'Apr', 'May', 'Jun', 'Jul', 'Aug', 'Sep', 'Oct', 'Nov', 'Dec'];

function ts(s: string) {
  const [y, m, d] = s.split('-').map(Number);
  return Date.UTC(2000 + y, m - 1, d);
}
const L = (p: number) => Math.log10(p);

function tradingDays(y: number, m: number, d0: number, n: number): number[] {
  const out: number[] = [];
  for (let d = d0; out.length < n && d <= 31; d++) {
    const dt = new Date(Date.UTC(y, m - 1, d));
    if (dt.getUTCMonth() !== m - 1) break;
    const dow = dt.getUTCDay();
    const iso = dt.toISOString().slice(2, 10);
    if (dow === 0 || dow === 6 || HOLIDAYS.includes(iso)) continue;
    out.push(dt.getTime());
  }
  return out;
}

function buildOption() {
  const days: number[] = [];
  const closes: number[] = [];
  const vols: number[] = [];
  MONTH_STARTS.forEach(([y, m, d0], k) => {
    const c = CLOSES[k];
    const v = VOLUMES[k];
    tradingDays(y, m, d0, c.length).forEach((t, i) => {
      days.push(t);
      closes.push(c[i]);
      vols.push(v[i]);
    });
  });

  const X_MIN = Date.UTC(2013, 1, 18);
  const X_MAX = Date.UTC(2014, 7, 16);
  const monthTicks: number[] = [];
  for (let k = 0; k < 18; k++) monthTicks.push(Date.UTC(2013, 2 + k, 1));

  const kf = (a: KF, f: (v: number) => number = (v) => v) => a.map(([d, v]) => [ts(d), f(v)]);

  const candles = closes.map((c, i) => {
    const o = i ? closes[i - 1] : c;
    return [days[i], L(o), L(c), L(Math.min(o, c)), L(Math.max(o, c))];
  });
  const volBars = vols.map((v, i) => ({
    value: [days[i], v * 1e9],
    itemStyle: { color: i && closes[i] < closes[i - 1] ? '#f2a9b1' : '#bcbcbc' },
  }));

  const grids = [
    { top: 21, height: 209 },
    { top: 242, height: 74 },
    { top: 318, height: 70 },
    { top: 390, height: 72 },
  ].map((g) => ({ left: 23, width: 551, ...g, show: true, borderColor: '#c4c4c4', borderWidth: 1, containLabel: false, outerBoundsMode: 'none' }));

  const monthFormatter = (v: number) => {
    const d = new Date(v);
    const m = d.getUTCMonth();
    return m === 0 ? '{y|' + d.getUTCFullYear() + '}' : MONTH_NAMES[m];
  };
  const xAxes = [0, 1, 2, 3].map((i) => ({
    type: 'value',
    gridIndex: i,
    min: X_MIN,
    max: X_MAX,
    axisLine: { show: false },
    axisTick: { show: false },
    splitLine: { show: false },
    axisLabel:
      i === 0 || i === 3
        ? {
            show: true,
            customValues: monthTicks,
            formatter: monthFormatter,
            fontSize: 7.5,
            fontFamily: SANS,
            color: '#333',
            margin: 3,
            rich: { y: { fontSize: 8.5, fontWeight: 'bold', fontFamily: SANS, color: '#222' } },
          }
        : { show: false },
  }));

  const rightLabel = (ticks: number[], fmt?: (v: number) => string) => ({
    customValues: ticks,
    fontSize: 7.5,
    fontFamily: SANS,
    color: '#333',
    margin: 4,
    ...(fmt ? { formatter: fmt } : {}),
  });
  const baseY = { type: 'value', axisLine: { show: false }, axisTick: { show: false }, splitLine: { show: false } };
  const yAxes = [
    { ...baseY, gridIndex: 0, position: 'right', min: L(1457.6), max: L(2035.6), axisLabel: rightLabel(PRICE_TICKS.map(L), (v) => String(Math.round(Math.pow(10, v)))) },
    { ...baseY, gridIndex: 0, position: 'left', min: 0, max: 14.6e9, axisLabel: { customValues: VOLUME_TICKS.map((v) => v * 1e9), formatter: (v: number) => Math.round(v / 1e9) + 'B', fontSize: 7.5, fontFamily: SANS, color: '#333', margin: 2 } },
    { ...baseY, gridIndex: 1, position: 'right', min: -7.7, max: 106.2, axisLabel: rightLabel(STO_TICKS) },
    { ...baseY, gridIndex: 2, position: 'right', min: -3.8, max: 103.8, axisLabel: rightLabel(RSI_TICKS) },
    { ...baseY, gridIndex: 3, position: 'right', min: -18.4, max: 28.2, axisLabel: rightLabel(MACD_TICKS) },
  ];

  const GRID_LINE = { color: '#e3e3e3', width: 1, type: 'solid' };
  const vLines = monthTicks.map((t) => ({ xAxis: t }));
  const mark = (data: any[]) => ({ silent: true, symbol: ['none', 'none'], label: { show: false }, lineStyle: GRID_LINE, data, animation: false });
  const dummy = (xi: number, yi: number, yv: number, data: any[]) => ({
    type: 'line', xAxisIndex: xi, yAxisIndex: yi, data: [[X_MIN, yv]], showSymbol: false, lineStyle: { opacity: 0 }, z: 1, silent: true, markLine: mark(data),
  });
  const ln = (xi: number, yi: number, data: any[], color: string, width: number, z = 3, smooth: number | boolean = false) => ({
    type: 'line', xAxisIndex: xi, yAxisIndex: yi, data, showSymbol: false, symbol: 'none', smooth, z, silent: true, lineStyle: { color, width }, itemStyle: { color },
  });

  const seg = (s: [string, number, string, number], style: any) => [
    { coord: [ts(s[0]), L(s[1])], lineStyle: style },
    { coord: [ts(s[2]), L(s[3])] },
  ];
  const BLUE = { color: '#0a0aff', width: 2.5, type: 'solid' };
  const BLUE_DOT = { color: '#1a1aff', width: 2, type: [2, 3] };

  const series: any[] = [
    dummy(0, 0, L(1700), [...vLines, ...PRICE_TICKS.map((p) => ({ yAxis: L(p) }))]),
    { type: 'bar', xAxisIndex: 0, yAxisIndex: 1, data: volBars, barWidth: 1.3, z: 2, silent: true },
    ln(0, 0, kf(ma200, L), '#e2475c', 1, 3, 0.3),
    ln(0, 0, kf(ma50, L), '#3a3a9e', 1, 3, 0.3),
    ln(0, 0, kf(ma20, L), '#2b8a2b', 1, 3, 0.3),
    ln(0, 0, days.map((d, i) => [d, L(closes[i])]), '#111', 1, 4),
    {
      type: 'candlestick', xAxisIndex: 0, yAxisIndex: 0, data: candles, encode: { x: 0, y: [1, 2, 3, 4] }, barWidth: 1.8, z: 4, silent: true,
      itemStyle: { color: '#000', color0: '#e00000', borderColor: '#000', borderColor0: '#e00000', borderWidth: 0.6 },
    },
    {
      type: 'scatter', xAxisIndex: 0, yAxisIndex: 0, symbolSize: 1, z: 6, silent: true,
      itemStyle: { color: 'rgba(0,0,0,0)' },
      data: PRICE_NOTES.map(([d, p, pos]) => ({ value: [ts(d), L(p)], name: p.toFixed(2), label: { position: pos === 'u' ? 'top' : 'bottom' } })),
      label: { show: true, formatter: '{b}', fontSize: 7, fontFamily: SANS, color: '#444', backgroundColor: '#f6f6f6', borderColor: '#b8b8b8', borderWidth: 0.8, padding: [1, 2, 0, 2], distance: 3 },
      markLine: {
        silent: true, symbol: ['none', 'none'], label: { show: false }, animation: false,
        data: [seg(CHANNEL_UPPER, BLUE), seg(CHANNEL_LOWER, BLUE), seg(RESISTANCE_DOTTED, BLUE_DOT), { yAxis: L(SUPPORT_LEVEL), lineStyle: BLUE_DOT }],
      },
    },
    dummy(1, 2, 50, [
      ...vLines,
      { yAxis: 80, lineStyle: { color: '#8c8c8c', width: 1.3 } },
      { yAxis: 20, lineStyle: { color: '#8c8c8c', width: 1.3 } },
      { yAxis: 50, lineStyle: { color: '#3a3aff', width: 1.3 } },
    ]),
    ln(1, 2, kf(stoK), '#000', 1.3, 3),
    ln(1, 2, kf(stoD), '#f02020', 1.1, 3),
    dummy(2, 3, 50, [
      ...vLines,
      { yAxis: 90 }, { yAxis: 10 },
      { yAxis: 70, lineStyle: { color: '#8c8c8c', width: 1.3 } },
      { yAxis: 30, lineStyle: { color: '#8c8c8c', width: 1.3 } },
      { yAxis: 50, lineStyle: { color: '#a0a0a0', width: 1.2, type: [6, 2, 2, 2] } },
    ]),
    ln(2, 3, kf(rsi), '#111', 0.9, 3),
    dummy(3, 4, 0, [...vLines, { yAxis: 20 }, { yAxis: 10 }, { yAxis: 0 }, { yAxis: -10 }]),
    {
      type: 'line', xAxisIndex: 3, yAxisIndex: 4, data: kf(hist), showSymbol: false, symbol: 'none', z: 2, silent: true,
      lineStyle: { color: '#2f7ea7', width: 0.5 }, areaStyle: { color: '#2f7ea7', opacity: 1 },
    },
    ln(3, 4, kf(signal), '#f02020', 1, 3, 0.3),
    ln(3, 4, kf(macd), '#000', 1.3, 4, 0.3),
  ];

  const txt = (x: number, y: number, text: string, font: string, fill = '#222', align = 'left', extra: any = {}) => ({
    type: 'text', x, y, z: 50, silent: true,
    style: { text, font, fill, align, textAlign: align, verticalAlign: 'middle', textVerticalAlign: 'middle', ...extra },
  });
  const rect = (x: number, y: number, w: number, h: number, fill: string, z = 50) => ({ type: 'rect', z, silent: true, shape: { x, y, width: w, height: h }, style: { fill } });

  const f = (size: number, weight = '') => `${weight} ${size}px ${SANS}`.trim();
  const mono = `7.2px ${MONO}`;

  const graphic = [
    // frame shadow
    rect(603, 8, 5, 470, '#8a8a8a', 0),
    rect(8, 473, 600, 5, '#8a8a8a', 0),
    rect(601, 6, 2, 468, '#cfcfcf', 0),
    rect(6, 471, 597, 2, '#cfcfcf', 0),
    // header
    txt(23, 8, '$SPX', f(9.5, 'bold'), '#111'),
    txt(50, 8, 'S&P 500 Large Cap Index', f(8.3), '#222'),
    txt(150, 8, 'INDX', f(6.5), '#333'),
    txt(23, 16.5, '13-Aug-2014', f(7.5), '#222'),
    txt(573, 7, '© StockCharts.com', f(7.5), '#6a6a6a', 'right'),
    txt(573, 16.5, '{b|Open} 1935.60 {b|High} 1948.41 {b|Low} 1935.60 {b|Close} 1946.72 {b|Volume} 1.5B {b|Chg} +12.97 (+0.67%) {g|▲}', f(8), '#222', 'right', {
      rich: { b: { font: f(8, 'bold'), fill: '#111' }, g: { font: `6px "DejaVu Sans"`, fill: '#2a9a2a' } },
    }),
    // price legend
    rect(25, 23.5, 1.5, 5, '#111'), rect(27.5, 23, 1.5, 5, '#111'), rect(30, 24.5, 1.5, 4, '#111'),
    txt(33, 26, '$SPX (Daily) 1946.72', mono, '#111'),
    rect(25, 32.7, 6, 1.6, '#3a3a9e'),
    txt(33, 33.5, 'MA(50) 1956.22', f(7.5), '#3a3a9e'),
    rect(25, 40.7, 6, 1.6, '#d8354e'),
    txt(33, 41.5, 'MA(200) 1865.55', f(7.5), '#d8354e'),
    rect(25, 48.5, 6, 1.6, '#2b8a2b'),
    txt(33, 49.3, 'MA(20) 1952.98', f(7.5), '#2b8a2b'),
    rect(25, 55, 1.5, 4, '#777'), rect(27.3, 53.5, 1.5, 5.5, '#777'), rect(29.6, 54.5, 1.5, 4.5, '#777'),
    txt(33, 56.8, 'Volume 1,523,907,840', f(7.5), '#666'),
    // STO legend
    rect(24, 247.5, 6, 1.5, '#111'),
    txt(32, 248, '{k|Full STO %K(14,3) %D(3) 40.98, }{r|33.12}', mono, '#222', 'left', {
      rich: { k: { font: mono, fill: '#222' }, r: { font: mono, fill: '#f02020' } },
    }),
    // RSI legend
    { type: 'polyline', z: 50, silent: true, shape: { points: [[24, 324], [26, 319], [28, 322], [30, 318]] }, style: { stroke: '#2a8a2a', lineWidth: 1.2, fill: null } },
    txt(32, 321, 'RSI(14) 49.43', mono, '#222'),
    // MACD legend
    rect(24, 393.5, 6, 1.5, '#111'),
    txt(32, 394, '{k|MACD(12,26,9) -8.050, }{r|-6.052, }{c|-1.998}', mono, '#222', 'left', {
      rich: { k: { font: mono, fill: '#222' }, r: { font: mono, fill: '#f02020' }, c: { font: mono, fill: '#4fb0e0' } },
    }),
    // annotation box
    {
      type: 'rect', z: 100, silent: true, shape: { x: 266, y: 167, width: 283, height: 46 },
      style: { fill: '#fff', stroke: '#8a8a8a', lineWidth: 1, shadowBlur: 3, shadowColor: 'rgba(0,0,0,0.35)', shadowOffsetX: 2, shadowOffsetY: 2 },
    },
    {
      type: 'text', z: 101, silent: true, x: 269, y: 170,
      style: {
        text: 'Benchmark pushing marginally below rising trend\nchannel: Trendline support around 1930, presenting\nthe dividing line between a bullish and bearish profile.',
        font: f(10.6, 'bold'), fill: '#1a1aee', lineHeight: 14, align: 'left', textAlign: 'left', verticalAlign: 'top', textVerticalAlign: 'top',
      },
    },
  ];

  return {
    animation: false,
    backgroundColor: '#ffffff',
    grid: grids,
    xAxis: xAxes,
    yAxis: yAxes,
    series,
    graphic: { elements: graphic },
  };
}

export default function App() {
  const ref = useRef<HTMLDivElement>(null);
  useEffect(() => {
    if (!ref.current) return;
    const chart = echarts.init(ref.current, undefined, { renderer: 'svg' });
    chart.setOption(buildOption() as any);
    return () => chart.dispose();
  }, []);
  return <div ref={ref} style={{ position: 'fixed', left: 0, top: 0, width: 609, height: 479, background: '#fff' }} />;
}
